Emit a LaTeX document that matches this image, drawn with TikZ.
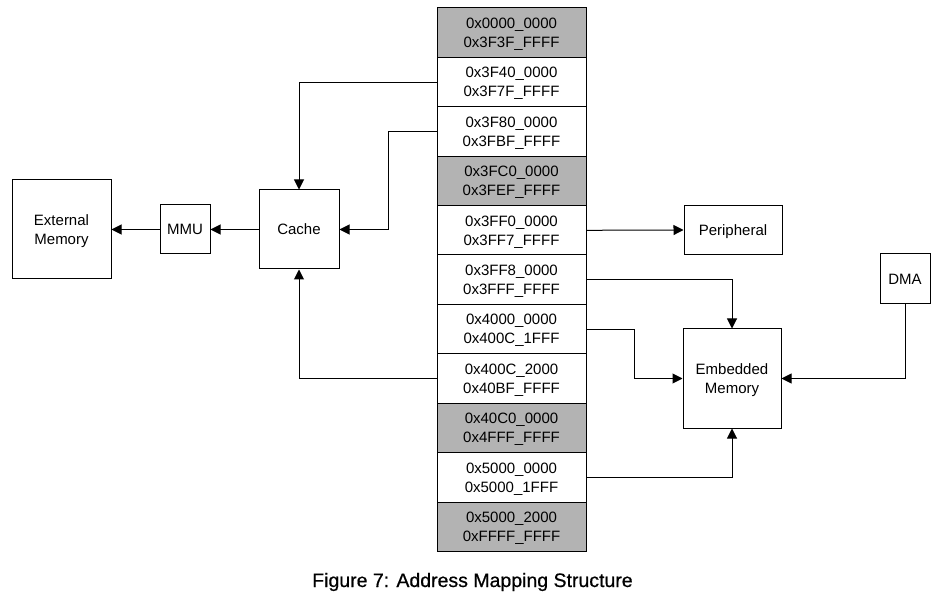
\documentclass[tikz,border=0pt]{standalone}
\usepackage{fontspec}
\setmainfont{Liberation Sans}
\newfontfamily\capfont[FakeBold=0.6]{Liberation Sans}
\usetikzlibrary{arrows.meta}
\definecolor{rowgray}{HTML}{B3B3B3}
\newcommand{\twoline}[2]{\rule{0pt}{14pt}#1\\#2\rule[-3.3pt]{0pt}{0pt}}
\newcommand{\oneline}[1]{\rule{0pt}{14pt}#1\rule[-3.3pt]{0pt}{0pt}}
\begin{document}
\begin{tikzpicture}[x=1pt,y=-1pt,
  box/.style={draw=black,line width=1pt,inner sep=0pt,align=center,
    font=\fontsize{15}{19}\selectfont},
  memrow/.style={box,minimum width=149pt,minimum height=49.4pt},
  grayrow/.style={memrow,fill=rowgray},
  arr/.style={line width=1pt,-{Triangle[length=10pt,width=10pt]}}]
\useasboundingbox (0,0) rectangle (946,596);
% memory column
\foreach \i/\st/\a/\b in {
  0/grayrow/0x0000\_0000/0x3F3F\_FFFF,
  1/memrow/0x3F40\_0000/0x3F7F\_FFFF,
  2/memrow/0x3F80\_0000/0x3FBF\_FFFF,
  3/grayrow/0x3FC0\_0000/0x3FEF\_FFFF,
  4/memrow/0x3FF0\_0000/0x3FF7\_FFFF,
  5/memrow/0x3FF8\_0000/0x3FFF\_FFFF,
  6/memrow/0x4000\_0000/0x400C\_1FFF,
  7/memrow/0x400C\_2000/0x40BF\_FFFF,
  8/grayrow/0x40C0\_0000/0x4FFF\_FFFF,
  9/memrow/0x5000\_0000/0x5000\_1FFF,
  10/grayrow/0x5000\_2000/0xFFFF\_FFFF}
  {\node[\st] (r\i) at (511.5,{8+49.4*(\i+0.5)}) {\twoline{\a}{\b}};}
% other blocks
\node[box,minimum width=99pt,minimum height=99pt] (ext) at (61.5,229.5) {\twoline{External}{Memory}};
\node[box,minimum width=50pt,minimum height=49pt] (mmu) at (185,229.5) {\oneline{MMU}};
\node[box,minimum width=80pt,minimum height=79pt] (cache) at (299,229.5) {\oneline{Cache}};
\node[box,minimum width=98pt,minimum height=49pt] (periph) at (733,230) {\oneline{Peripheral}};
\node[box,minimum width=98pt,minimum height=99pt] (em) at (732,378.5) {\twoline{Embedded}{Memory}};
\node[box,minimum width=50pt,minimum height=50pt] (dma) at (905,279) {\oneline{DMA}};
% connectors
\draw[arr] (r1.west) -| (cache.north);
\draw[arr] (r2.west) -- ++(-48,0) |- (cache.east);
\draw[arr] (r7.west) -| (cache.south);
\draw[arr] (cache.west) -- (mmu.east);
\draw[arr] (mmu.west) -- (ext.east);
\draw[arr] (r4.east) -- (periph.west);
\draw[arr] (r5.east) -| (em.north);
\draw[arr] (r6.east) -- ++(48,0) |- (em.west);
\draw[arr] (r9.east) -| (em.south);
\draw[arr] (dma.south) |- (em.east);
% caption
\node[anchor=base,inner sep=0pt,font=\capfont\fontsize{19.5}{23}\selectfont] (cap) at (472.5,587) {Figure 7: Address Mapping Structure};
\end{tikzpicture}
\end{document}
